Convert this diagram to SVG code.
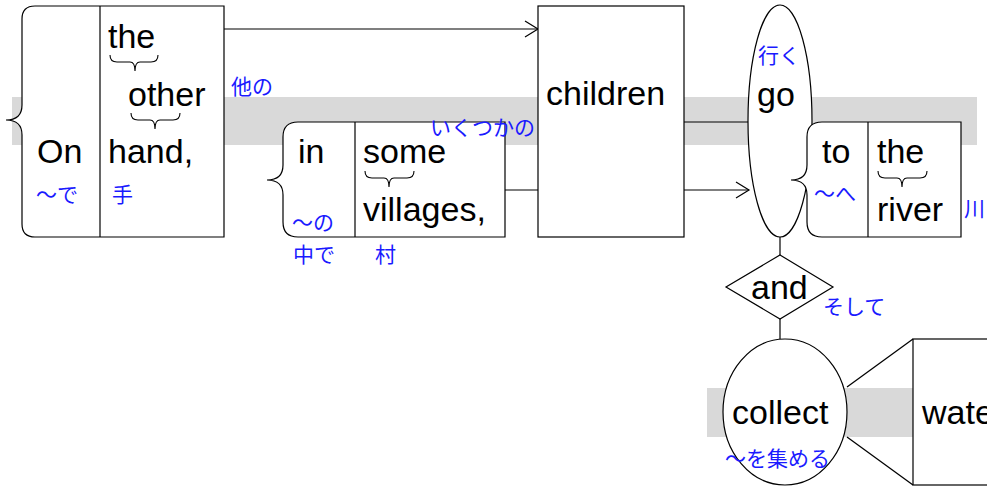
<svg xmlns="http://www.w3.org/2000/svg" width="987" height="486" viewBox="0 0 987 486">
<style>
.band{fill:#d9d9d9}
.box{fill:#fff;stroke:#000;stroke-width:1.2}
.ln{fill:none;stroke:#000;stroke-width:1.2}
.br{fill:none;stroke:#000;stroke-width:1.1}
.w{font-family:"Liberation Sans",Arial,sans-serif;font-size:34px;fill:#000}
.j{font-family:"Liberation Sans","Noto Sans CJK JP",sans-serif;font-size:21px;fill:#1a1aff}
</style>
<defs>
<marker id="arr" markerWidth="16" markerHeight="18" refX="14" refY="9" orient="auto" markerUnits="userSpaceOnUse">
<path d="M1,1 L14,9 L1,17" fill="none" stroke="#000" stroke-width="1.2"/>
</marker>
</defs>
<rect class="band" x="12" y="97" width="965" height="48"/>
<rect class="band" x="707" y="388" width="280" height="49"/>
<g id="connectors">
<line class="ln" x1="224" y1="29" x2="538" y2="29" marker-end="url(#arr)"/>
<line class="ln" x1="505" y1="190" x2="538" y2="190"/>
<line class="ln" x1="684" y1="122" x2="750" y2="122"/>
<line class="ln" x1="684" y1="190" x2="749" y2="190" marker-end="url(#arr)"/>
<line class="ln" x1="780" y1="237" x2="780" y2="255"/>
<line class="ln" x1="780" y1="319" x2="780" y2="339"/>
<line class="ln" x1="847" y1="387" x2="913" y2="339"/>
<line class="ln" x1="847" y1="437" x2="913" y2="485"/>
</g>
<g id="node-on">
<path class="box" d="M35,6 H224 V237 H35 Q22,237 22,224 V135 Q22,120 6,120 Q22,120 22,105 V19 Q22,6 35,6 Z"/>
<line class="ln" x1="100" y1="6" x2="100" y2="237"/>
<text class="w" x="37" y="163">On</text>
<text class="w" x="108" y="48">the</text>
<path class="br" d="M110,55 Q110,62 117,62 H130 Q135,62 135,71 Q135,62 140,62 H151 Q158,62 158,55"/>
<text class="w" x="128" y="106">other</text>
<path class="br" d="M131,113 Q131,120 138,120 H150 Q155,120 155,129 Q155,120 160,120 H173 Q180,120 180,113"/>
<text class="w" x="108" y="163">hand,</text>
<text class="j" x="36" y="202">～で</text>
<text class="j" x="112" y="202">手</text>
<text class="j" x="231" y="94">他の</text>
</g>
<g id="node-in">
<path class="box" d="M298,122 H505 V237 H298 Q283,237 283,222 V195 Q283,180 267,180 Q283,180 283,165 V137 Q283,122 298,122 Z"/>
<line class="ln" x1="355" y1="122" x2="355" y2="237"/>
<text class="w" x="298" y="163">in</text>
<text class="w" x="363" y="163">some</text>
<path class="br" d="M365,171 Q365,178 372,178 H384 Q389,178 389,187 Q389,178 394,178 H407 Q414,178 414,171"/>
<text class="w" x="363" y="221">villages,</text>
<text class="j" x="292" y="230">～の</text>
<text class="j" x="293" y="262">中で</text>
<text class="j" x="375" y="262">村</text>
<text class="j" x="430" y="135">いくつかの</text>
</g>
<g id="node-children">
<rect class="box" x="538" y="6" width="146" height="231"/>
<text class="w" x="546" y="105">children</text>
</g>
<g id="node-go">
<ellipse class="box" cx="780" cy="121" rx="32" ry="116"/>
<text class="w" x="757" y="106">go</text>
<text class="j" x="758" y="63">行く</text>
</g>
<g id="node-to">
<path class="box" d="M822,122 H961 V237 H822 Q807,237 807,222 V195 Q807,180 791,180 Q807,180 807,165 V137 Q807,122 822,122 Z"/>
<line class="ln" x1="868" y1="122" x2="868" y2="237"/>
<text class="w" x="822" y="163">to</text>
<text class="w" x="877" y="163">the</text>
<path class="br" d="M878,171 Q878,178 885,178 H897 Q902,178 902,187 Q902,178 907,178 H920 Q927,178 927,171"/>
<text class="w" x="877" y="221">river</text>
<text class="j" x="814" y="201">～へ</text>
<text class="j" x="964" y="216">川</text>
</g>
<g id="node-and">
<polygon class="box" points="780,255 833,287 780,319 726,287"/>
<text class="w" x="751" y="299">and</text>
<text class="j" x="823" y="314">そして</text>
</g>
<g id="node-collect">
<ellipse class="box" cx="785" cy="412" rx="62" ry="73"/>
<text class="w" x="732" y="424">collect</text>
<text class="j" x="725" y="466">～を集める</text>
</g>
<g id="node-water">
<rect class="box" x="913" y="339" width="100" height="146"/>
<text class="w" x="922" y="424">water</text>
</g>
</svg>
